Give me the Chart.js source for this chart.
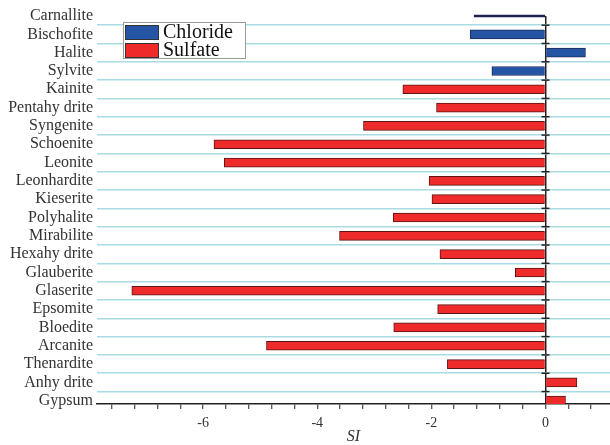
<!DOCTYPE html>
<html>
<head>
<meta charset="utf-8">
<script src="https://cdn.jsdelivr.net/npm/chart.js@4.4.1/dist/chart.umd.min.js"></script>
<style>
  html, body { margin: 0; padding: 0; background: #fff; }
  #wrap { width: 610px; height: 445px; }
</style>
</head>
<body>
<div id="wrap"><canvas id="grafico" width="610" height="445"></canvas></div>
<script>
// minerais, de cima para baixo
const minerais = ['Carnallite', 'Bischofite', 'Halite', 'Sylvite', 'Kainite', 'Pentahy drite',
  'Syngenite', 'Schoenite', 'Leonite', 'Leonhardite', 'Kieserite', 'Polyhalite', 'Mirabilite',
  'Hexahy drite', 'Glauberite', 'Glaserite', 'Epsomite', 'Bloedite', 'Arcanite', 'Thenardite',
  'Anhy drite', 'Gypsum'];

// indice de saturacao (SI)
const cloretos = [-1.25, -1.32, 0.70, -0.94, null, null, null, null, null, null, null,
  null, null, null, null, null, null, null, null, null, null, null];
const sulfatos = [null, null, null, null, -2.50, -1.91, -3.19, -5.81, -5.63, -2.04, -1.99,
  -2.67, -3.61, -1.85, -0.53, -7.25, -1.89, -2.66, -4.89, -1.72, 0.55, 0.35];

// Carnallite aparece so como uma linha fina
const linhaFina = ['Carnallite'];

const posicoesX = [-7.6, -7.2, -6.8, -6.4, -6, -5.6, -5.2, -4.8, -4.4, -4, -3.6, -3.2,
  -2.8, -2.4, -2, -1.6, -1.2, -0.8, -0.4, 0, 0.4, 0.8];
const rotulosX = [-6, -4, -2, 0];

const fonte = 'Liberation Serif';

function pontos(valores, filtro) {
  const lista = [];
  valores.forEach((v, i) => {
    if (v === null || v === undefined) return;
    if (!filtro(minerais[i])) return;
    lista.push({ x: v, y: i });
  });
  return lista;
}

const marcasZero = {
  id: 'marcasZero',
  afterDatasetsDraw(chart) {
    const { ctx, scales: { x, y } } = chart;
    const x0 = x.getPixelForValue(0);
    ctx.save();
    ctx.strokeStyle = '#222';
    ctx.lineWidth = 1.5;
    for (let i = 0; i < minerais.length; i++) {
      const py = y.getPixelForValue(i + 0.5);
      if (py > y.bottom - 1 || py < y.top) continue;
      ctx.beginPath();
      ctx.moveTo(x0 - 4, py);
      ctx.lineTo(x0 + 4, py);
      ctx.stroke();
    }
    ctx.restore();
  }
};

const legenda = {
  id: 'legenda',
  afterDraw(chart) {
    const ctx = chart.ctx;
    const caixa = { x: 123, y: 22, w: 122, h: 36 };
    ctx.save();
    ctx.fillStyle = '#fff';
    ctx.fillRect(caixa.x, caixa.y, caixa.w, caixa.h);
    ctx.strokeStyle = '#9a9a9a';
    ctx.lineWidth = 1;
    ctx.strokeRect(caixa.x + 0.5, caixa.y + 0.5, caixa.w, caixa.h);
    chart.data.datasets.slice(0, 2).forEach((ds, i) => {
      const yy = caixa.y + 3 + i * 18;
      ctx.fillStyle = ds.backgroundColor;
      ctx.fillRect(125, yy, 33, 14);
      ctx.strokeStyle = '#333';
      ctx.strokeRect(125.5, yy + 0.5, 33, 14);
      ctx.fillStyle = '#111';
      ctx.font = '20px "' + fonte + '"';
      ctx.textBaseline = 'middle';
      ctx.fillText(ds.label, 163, yy + 8);
    });
    ctx.restore();
  }
};

new Chart(document.getElementById('grafico'), {
  type: 'bar',
  data: {
    datasets: [
      {
        label: 'Chloride',
        data: pontos(cloretos, m => !linhaFina.includes(m)),
        backgroundColor: '#2556a6',
        borderColor: '#1b2a58',
        borderWidth: 1,
        barThickness: 9,
        grouped: false
      },
      {
        label: 'Sulfate',
        data: pontos(sulfatos, () => true),
        backgroundColor: '#ee2a2a',
        borderColor: '#5b1515',
        borderWidth: 1,
        barThickness: 9,
        grouped: false
      },
      {
        label: 'Carnallite',
        data: pontos(cloretos, m => linhaFina.includes(m)),
        backgroundColor: '#1c2150',
        borderWidth: 0,
        barThickness: 2,
        grouped: false,
        clip: false
      }
    ]
  },
  options: {
    indexAxis: 'y',
    responsive: false,
    animation: false,
    devicePixelRatio: 1,
    layout: { padding: { top: 16, right: 0, bottom: 0, left: 0 } },
    plugins: {
      legend: { display: false },
      tooltip: { enabled: false }
    },
    scales: {
      x: {
        type: 'linear',
        min: -7.86,
        max: 1.13,
        afterBuildTicks: s => { s.ticks = posicoesX.map(v => ({ value: v })); },
        afterFit: s => { s.height = 41; },
        ticks: {
          autoSkip: false,
          maxRotation: 0,
          padding: 6,
          color: '#333',
          font: { family: fonte, size: 14 },
          callback: v => rotulosX.includes(v) ? String(v) : ''
        },
        grid: {
          drawOnChartArea: true,
          color: c => (c.tick && c.tick.value === 0) ? '#222' : 'rgba(0,0,0,0)',
          lineWidth: 1.5,
          tickColor: '#222',
          tickLength: 5,
          tickWidth: 1
        },
        border: { display: true, color: '#222', width: 1.5 },
        title: {
          display: true,
          text: 'SI',
          color: '#333',
          font: { family: fonte, size: 16, style: 'italic', lineHeight: 1 },
          padding: { top: 0, bottom: 0 }
        }
      },
      y: {
        type: 'linear',
        reverse: true,
        min: 0,
        max: 21.18,
        offset: false,
        afterBuildTicks: s => { s.ticks = minerais.map((_, i) => ({ value: i })); },
        afterFit: s => { s.width = 97; },
        ticks: {
          autoSkip: false,
          padding: 4,
          color: '#333',
          font: { family: fonte, size: 16 },
          callback: v => minerais[v]
        },
        grid: {
          offset: true,
          drawTicks: false,
          color: '#a9dbe4',
          lineWidth: 1.5
        },
        border: { display: false }
      }
    }
  },
  plugins: [marcasZero, legenda]
});
</script>
</body>
</html>
